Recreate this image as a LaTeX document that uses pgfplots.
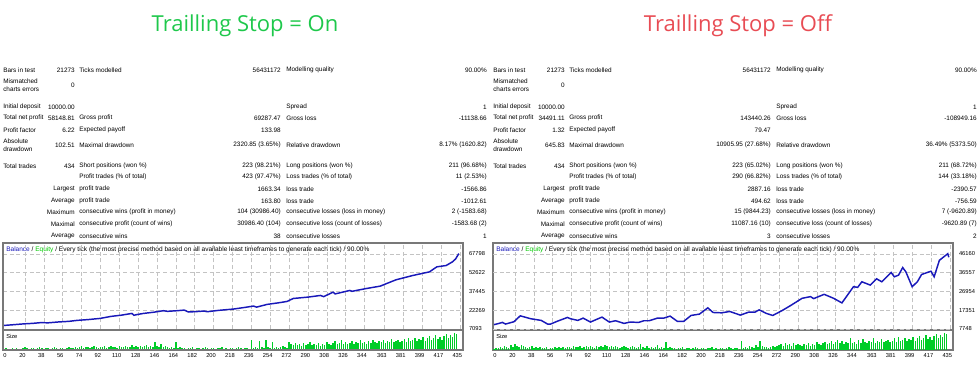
\documentclass[border=0pt]{standalone}
\usepackage{pgfplots}
\pgfplotsset{compat=1.18}
\usepackage{pgfplotstable}
\usepackage{fontspec}
\setmainfont{Liberation Sans}
\newfontfamily\titlefont{Open Sans}
\definecolor{ongreen}{RGB}{30,200,75}
\definecolor{offred}{RGB}{232,76,84}
\definecolor{balblue}{RGB}{25,25,185}
\definecolor{eqgreen}{RGB}{0,200,0}
\definecolor{sizegreen}{RGB}{0,205,40}
\definecolor{boxgray}{RGB}{120,120,120}
\definecolor{gridgray}{RGB}{195,195,195}
\newcommand\tf{\fontsize{4.8pt}{5.6pt}\selectfont}
\newcommand\cf{\fontsize{4.3pt}{5pt}\selectfont}
\newcommand\hf{\fontsize{4.9pt}{5.5pt}\selectfont}

\pgfplotstableread[header=false,row sep=\\]{
1\\2\\1\\1\\2\\1\\2\\1\\1\\2\\3\\2\\1\\2\\2\\1\\2\\3\\2\\1\\2\\2\\1\\2\\3\\2\\1\\2\\2\\1\\
2\\3\\2\\2\\3\\2\\3\\4\\2\\3\\3\\2\\3\\4\\3\\2\\3\\3\\4\\2\\3\\4\\3\\3\\2\\4\\3\\3\\4\\3\\3\\5\\3\\4\\3\\
4\\3\\4\\5\\3\\4\\3\\8\\4\\3\\6\\3\\4\\3\\2\\3\\2\\8\\2\\3\\2\\
2\\1\\2\\2\\3\\1\\2\\2\\1\\2\\3\\2\\1\\2\\2\\1\\2\\2\\3\\1\\2\\1\\2\\2\\1\\2\\3\\2\\1\\2\\2\\1\\
10\\2\\3\\2\\9\\3\\2\\10\\3\\2\\8\\2\\3\\2\\3\\4\\3\\2\\
8\\6\\5\\7\\5\\6\\4\\7\\5\\6\\8\\5\\6\\5\\7\\4\\6\\5\\8\\6\\5\\7\\9\\6\\
7\\10\\6\\8\\6\\7\\9\\6\\8\\7\\10\\7\\8\\6\\9\\7\\10\\8\\7\\9\\8\\10\\7\\9\\8\\11\\8\\9\\10\\8\\
9\\11\\8\\12\\9\\10\\12\\9\\11\\10\\13\\9\\12\\14\\10\\12\\15\\11\\13\\10\\14\\16\\12\\15\\13\\17\\16\\
}\onsize

\pgfplotstableread[header=false,row sep=\\]{
1\\2\\2\\3\\2\\4\\3\\2\\5\\3\\6\\4\\3\\5\\4\\3\\2\\3\\4\\2\\3\\2\\3\\2\\2\\3\\1\\2\\2\\3\\
2\\3\\2\\3\\2\\3\\3\\2\\4\\3\\3\\4\\2\\3\\4\\3\\4\\3\\2\\4\\3\\4\\3\\5\\4\\3\\4\\3\\4\\3\\2\\3\\4\\3\\2\\
3\\4\\3\\2\\3\\6\\3\\2\\4\\2\\3\\2\\3\\5\\2\\3\\2\\8\\2\\3\\2\\
2\\1\\2\\2\\3\\1\\2\\2\\1\\2\\3\\2\\1\\2\\2\\1\\2\\2\\3\\1\\2\\1\\2\\2\\1\\2\\3\\2\\1\\2\\2\\1\\
9\\2\\3\\2\\4\\3\\2\\5\\3\\9\\4\\3\\3\\2\\3\\4\\3\\4\\
5\\6\\4\\7\\5\\6\\4\\7\\5\\6\\5\\4\\6\\5\\7\\4\\6\\5\\8\\6\\5\\7\\8\\6\\
7\\9\\6\\8\\10\\7\\9\\6\\8\\7\\12\\7\\8\\6\\10\\7\\11\\8\\7\\9\\8\\12\\7\\9\\8\\11\\8\\9\\10\\8\\
9\\12\\8\\13\\9\\10\\12\\9\\11\\10\\13\\9\\12\\14\\10\\12\\15\\11\\13\\10\\14\\16\\12\\15\\13\\17\\16\\
}\offsize

\pgfplotsset{
  mt/.style={scale only axis, width=345pt, anchor=north west, xmin=-1, xmax=438,
    axis line style={draw=none}, major tick length=0pt,
    ticklabel style={font=\cf, text=black}},
  mainpane/.style={mt, height=63.75pt, grid=major,
    major grid style={densely dashed, gridgray, line width=0.4pt},
    xtick={20,38,56,74,92,110,128,146,164,182,200,218,236,254,272,290,308,326,344,363,381,399,417,435},
    xticklabels={}, scaled y ticks=false,
    yticklabel pos=right, yticklabel style={xshift=1pt}},
  sizepane/.style={mt, height=14.25pt, ymin=0, ymax=19, ytick=\empty,
    xtick={20,38,56,74,92,110,128,146,164,182,200,218,236,254,272,290,308,326,344,363,381,399,417,435},
    xticklabels={20,38,56,74,92,110,128,146,164,182,200,218,236,254,272,290,308,326,344,363,381,399,417,435},
    xticklabel style={xshift=-1.9pt, yshift=1pt},
    extra x ticks={0}, extra x tick labels={0},
    extra x tick style={xticklabel style={xshift=2.6pt}}},
}

\newcommand\commonlabels{%
  \node[L] at (3,70) {Bars in test};
  \node[L,align=left] at (3,85) {Mismatched\\charts errors};
  \node[L] at (3,107) {Initial deposit};
  \node[L] at (3,118) {Total net profit};
  \node[L] at (3,130) {Profit factor};
  \node[L,align=left] at (3,145) {Absolute\\drawdown};
  \node[L] at (3,166) {Total trades};
  \node[R] at (75,189) {Largest};
  \node[R] at (75,201) {Average};
  \node[R] at (75,212) {Maximum};
  \node[R] at (75,224) {Maximal};
  \node[R] at (75,236) {Average};
  \node[L] at (79,70) {Ticks modelled};
  \node[L] at (79,118) {Gross profit};
  \node[L] at (79,130) {Expected payoff};
  \node[L] at (79,145) {Maximal drawdown};
  \node[L] at (79,166) {Short positions (won \%)};
  \node[L] at (79,177) {Profit trades (\% of total)};
  \node[L] at (79,189) {profit trade};
  \node[L] at (79,201) {profit trade};
  \node[L] at (79,212) {consecutive wins (profit in money)};
  \node[L] at (79,224) {consecutive profit (count of wins)};
  \node[L] at (79,236) {consecutive wins};
  \node[L] at (286,70) {Modelling quality};
  \node[L] at (286,107) {Spread};
  \node[L] at (286,118) {Gross loss};
  \node[L] at (286,145) {Relative drawdown};
  \node[L] at (286,166) {Long positions (won \%)};
  \node[L] at (286,177) {Loss trades (\% of total)};
  \node[L] at (286,189) {loss trade};
  \node[L] at (286,201) {loss trade};
  \node[L] at (286,212) {consecutive losses (loss in money)};
  \node[L] at (286,224) {consecutive loss (count of losses)};
  \node[L] at (286,236) {consecutive losses};
  \node[anchor=west, inner sep=0pt, font=\hf] at (6,249.5) {{\color{balblue}Balance} / {\color{eqgreen}Equity} / Every tick (the most precise method based on all available least timeframes to generate each tick) / 90.00\%};
  \node[anchor=west, inner sep=0pt, font=\cf] at (6,336) {Size};
}

\begin{document}
\begin{tikzpicture}[x=0.75pt, y=-0.75pt,
  L/.style={anchor=west, inner sep=0pt, font=\tf},
  R/.style={anchor=east, inner sep=0pt, font=\tf}]
\useasboundingbox (0,0) rectangle (980,374);

\node[font=\titlefont\fontsize{16.5pt}{19pt}\selectfont, text=ongreen] at (245,26) {Trailling Stop = On};
\node[font=\titlefont\fontsize{16.5pt}{19pt}\selectfont, text=offred] at (738,26) {Trailling Stop = Off};

% ---------- left panel ----------
\commonlabels
\node[R] at (75,70) {21273};
\node[R] at (75,85) {0};
\node[R] at (75,107) {10000.00};
\node[R] at (75,118) {58148.81};
\node[R] at (75,130) {6.22};
\node[R] at (75,145) {102.51};
\node[R] at (75,166) {434};
\node[R] at (281,70) {56431172};
\node[R] at (281,118) {69287.47};
\node[R] at (281,130) {133.98};
\node[R] at (281,145) {2320.85 (3.65\%)};
\node[R] at (281,166) {223 (98.21\%)};
\node[R] at (281,177) {423 (97.47\%)};
\node[R] at (281,189) {1663.34};
\node[R] at (281,201) {163.80};
\node[R] at (281,212) {104 (30986.40)};
\node[R] at (281,224) {30986.40 (104)};
\node[R] at (281,236) {38};
\node[R] at (487,70) {90.00\%};
\node[R] at (487,107) {1};
\node[R] at (487,118) {-11138.66};
\node[R] at (487,145) {8.17\% (1620.82)};
\node[R] at (487,166) {211 (96.68\%)};
\node[R] at (487,177) {11 (2.53\%)};
\node[R] at (487,189) {-1566.86};
\node[R] at (487,201) {-1012.61};
\node[R] at (487,212) {2 (-1583.68)};
\node[R] at (487,224) {-1583.68 (2)};
\node[R] at (487,236) {1};

\begin{axis}[mainpane, at={(2.25pt,-183pt)}, ymin=7093, ymax=75892,
  ytick={7093,22269,37445,52622,67798}, yticklabels={7093,22269,37445,52622,67798}]
\addplot[balblue, line width=1.1pt] coordinates {
(0,10000)(8,10500)(18,11200)(28,11700)(35,12250)(42,12100)(52,12800)(62,13300)(70,14100)
(80,14700)(92,15700)(102,17300)(112,18300)(122,19700)(124,18200)(127,18800)(133,19700)
(143,20700)(152,21900)(156,21400)(165,21900)(172,22400)(176,20850)(184,21200)(191,21650)
(194,21100)(205,22200)(219,23250)(230,24600)(238,25650)(241,24800)(251,27000)(262,28300)
(270,29400)(276,31800)(290,32900)(302,34250)(305,33300)(314,36900)(316,35500)(330,38300)
(332,37600)(346,39900)(359,41800)(374,46900)(390,50400)(406,53350)(413,57400)(422,58500)
(428,61500)(431,63850)(434,68149)};
\end{axis}
\begin{axis}[sizepane, at={(2.25pt,-248.25pt)}]
\addplot[ycomb, sizegreen, line width=1.1pt, mark=none] table[x expr=\coordindex*2, y index=0] {\onsize};
\end{axis}
\draw[boxgray, line width=1.1pt] (3,243) rectangle (463,350);
\draw[boxgray, line width=1.5pt] (3,330) -- (463,330);

% ---------- right panel ----------
\begin{scope}[xshift=367.5pt]
\commonlabels
\node[R] at (75,70) {21273};
\node[R] at (75,85) {0};
\node[R] at (75,107) {10000.00};
\node[R] at (75,118) {34491.11};
\node[R] at (75,130) {1.32};
\node[R] at (75,145) {645.83};
\node[R] at (75,166) {434};
\node[R] at (281,70) {56431172};
\node[R] at (281,118) {143440.26};
\node[R] at (281,130) {79.47};
\node[R] at (281,145) {10905.95 (27.68\%)};
\node[R] at (281,166) {223 (65.02\%)};
\node[R] at (281,177) {290 (66.82\%)};
\node[R] at (281,189) {2887.16};
\node[R] at (281,201) {494.62};
\node[R] at (281,212) {15 (9844.23)};
\node[R] at (281,224) {11087.16 (10)};
\node[R] at (281,236) {3};
\node[R] at (487,70) {90.00\%};
\node[R] at (487,107) {1};
\node[R] at (487,118) {-108949.16};
\node[R] at (487,145) {36.49\% (5373.50)};
\node[R] at (487,166) {211 (68.72\%)};
\node[R] at (487,177) {144 (33.18\%)};
\node[R] at (487,189) {-2390.57};
\node[R] at (487,201) {-756.59};
\node[R] at (487,212) {7 (-9620.89)};
\node[R] at (487,224) {-9620.89 (7)};
\node[R] at (487,236) {2};
\draw[boxgray, line width=1.1pt] (3,243) rectangle (463,350);
\draw[boxgray, line width=1.5pt] (3,330) -- (463,330);
\end{scope}

\begin{axis}[mainpane, at={(369.75pt,-183pt)}, ymin=7748, ymax=51285,
  ytick={7748,17351,26954,36557,46160}, yticklabels={7748,17351,26954,36557,46160}]
\addplot[balblue, line width=1.1pt] coordinates {
(0,10000)(4,10500)(8,11130)(11,10290)(19,11470)(25,14500)(35,13000)(45,12150)(51,10300)
(54,10290)(60,11640)(70,13670)(73,12990)(80,12150)(85,13330)(92,11300)(97,12480)(103,13840)
(110,11300)(116,11980)(124,10620)(130,11300)(138,11130)(143,11980)(148,11980)(156,13330)
(162,13330)(168,14350)(175,11640)(181,11640)(188,14690)(196,15370)(204,18580)(209,16210)
(217,16040)(225,16720)(235,14860)(243,16380)(249,16380)(253,17560)(260,15700)(266,14690)
(275,17220)(283,19760)(294,23480)(302,24330)(305,23310)(315,25510)(324,23480)(332,21120)
(343,29410)(347,29070)(351,31940)(359,30250)(365,33470)(370,31940)(379,36680)(382,34480)
(386,35330)(390,39220)(393,37020)(399,29410)(404,31940)(408,35670)(417,37360)(420,34480)
(425,42940)(433,46320)(434,44491)};
\end{axis}
\begin{axis}[sizepane, at={(369.75pt,-248.25pt)}]
\addplot[ycomb, sizegreen, line width=1.1pt, mark=none] table[x expr=\coordindex*2, y index=0] {\offsize};
\end{axis}
\end{tikzpicture}
\end{document}
